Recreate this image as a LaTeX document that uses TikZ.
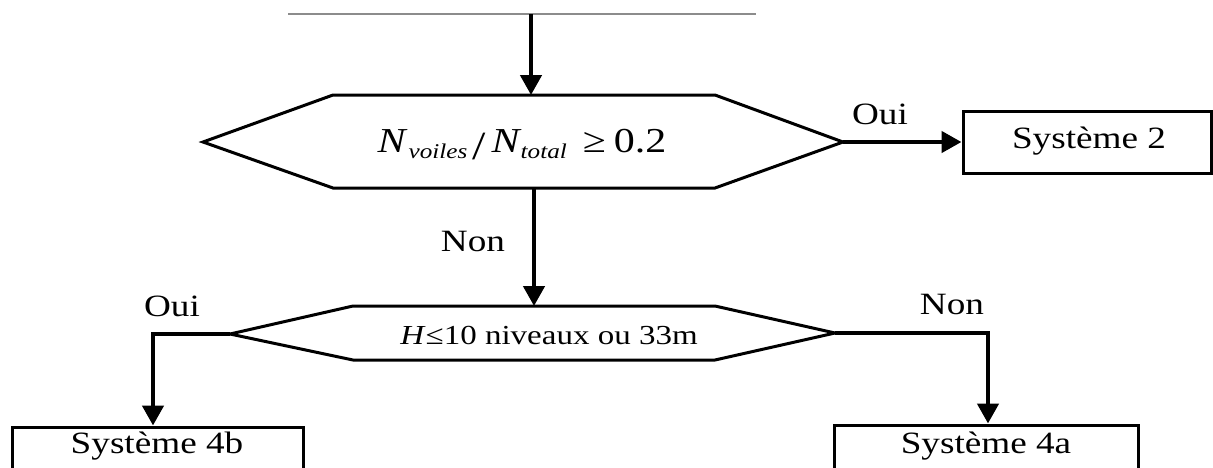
\documentclass[tikz,border=0pt]{standalone}
\usepackage{fontspec}
\setmainfont{Liberation Serif}[FakeStretch=1.2]
\usetikzlibrary{arrows.meta}
\begin{document}
\begin{tikzpicture}[x=1pt,y=-1pt,
  outline/.style={line width=3pt, line join=miter},
  arr/.style={line width=4.5pt, line join=miter, -{Triangle[length=20pt,width=21pt]}},
  lbl/.style={font=\fontsize{31}{35}\selectfont, inner sep=0pt, anchor=base},
  box/.style={draw, line width=3pt, inner sep=0pt},
  topline/.style={line width=1.5pt, black!45}]
\useasboundingbox (0,0) rectangle (1213,467);
\clip (0,0) rectangle (1213,467);
% top line
\coordinate (tl) at (288,14);
\coordinate (tr) at (756,14);
\coordinate (in) at (531,14);
\draw[topline] (tl) -- (tr);
% hexagon 1
\coordinate (h1L) at (203,142);
\coordinate (h1TL) at (333,95);
\coordinate (h1TR) at (715,95);
\coordinate (h1R) at (843,142);
\coordinate (h1BR) at (715,188);
\coordinate (h1BL) at (333,188);
\coordinate (h1T) at (531,95);
\coordinate (h1B) at (534,188);
\draw[outline] (h1L) -- (h1TL) -- (h1TR) -- (h1R) -- (h1BR) -- (h1BL) -- cycle;
\node[anchor=base, inner sep=0pt] (f1) at (522,152) {\fontsize{35}{38}\selectfont\itshape N\hspace{3pt}\raisebox{-6pt}{\fontsize{21}{24}\selectfont voiles}\hspace{5pt}\upshape\raisebox{-7pt}{\fontsize{40}{42}\selectfont /}\hspace{6pt}\itshape N\hspace{1pt}\raisebox{-6pt}{\fontsize{21}{24}\selectfont total}\hspace{16pt}\upshape ≥\hspace{8pt}0.2};
% hexagon 2
\coordinate (h2L) at (230,334);
\coordinate (h2TL) at (353,306);
\coordinate (h2TR) at (715,306);
\coordinate (h2R) at (835,333);
\coordinate (h2BR) at (715,360);
\coordinate (h2BL) at (353,360);
\coordinate (h2T) at (534,306);
\draw[outline] (h2L) -- (h2TL) -- (h2TR) -- (h2R) -- (h2BR) -- (h2BL) -- cycle;
\node[anchor=base, inner sep=0pt, font=\fontsize{27.5}{31}\selectfont] (f2) at (549,344) {\textit{H}≤10 niveaux ou 33m};
% boxes
\node[box, minimum width=248pt, minimum height=62pt] (s2) at (1087,142) {};
\node[lbl] (t2) at (1089,148) {Système 2};
\node[box, minimum width=291pt, minimum height=56pt] (b4b) at (157.5,455) {};
\node[lbl] (t4b) at (157,453) {Système 4b};
\node[box, minimum width=304pt, minimum height=56pt] (b4a) at (986,453) {};
\node[lbl] (t4a) at (986,453) {Système 4a};
% connectors
\coordinate (c4b) at (153,334);
\coordinate (c4a) at (988,333);
\draw[arr] (in) -- (h1T);
\draw[arr] (h1R) -- (s2.west);
\draw[arr] (h1B) -- (h2T);
\draw[arr] (h2L) -- (c4b) -- (c4b |- b4b.north);
\draw[arr] (h2R) -- (c4a) -- (c4a |- b4a.north);
% labels
\node[lbl] (oui1) at (880,124) {Oui};
\node[lbl] (non1) at (473,251) {Non};
\node[lbl] (oui2) at (172,316) {Oui};
\node[lbl] (non2) at (952,314) {Non};
\end{tikzpicture}
\end{document}
